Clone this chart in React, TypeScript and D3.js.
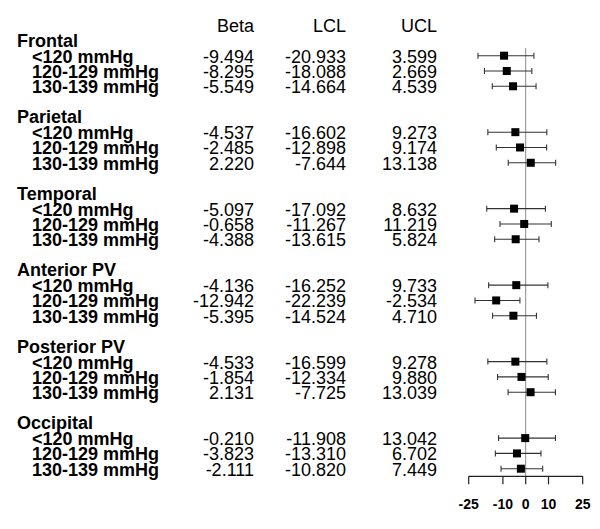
import React from "react";
import * as d3 from "d3";

const groups = ["Frontal", "Parietal", "Temporal", "Anterior PV", "Posterior PV", "Occipital"];
const levels = ["<120 mmHg", "120-129 mmHg", "130-139 mmHg"];
const beta = [
  [-9.494, -8.295, -5.549],
  [-4.537, -2.485, 2.22],
  [-5.097, -0.658, -4.388],
  [-4.136, -12.942, -5.395],
  [-4.533, -1.854, 2.131],
  [-0.21, -3.823, -2.111],
];
const lcl = [
  [-20.933, -18.088, -14.664],
  [-16.602, -12.898, -7.644],
  [-17.092, -11.267, -13.615],
  [-16.252, -22.239, -14.524],
  [-16.599, -12.334, -7.725],
  [-11.908, -13.31, -10.82],
];
const ucl = [
  [3.599, 2.669, 4.539],
  [9.273, 9.174, 13.138],
  [8.632, 11.219, 5.824],
  [9.733, -2.534, 4.71],
  [9.278, 9.88, 13.039],
  [13.042, 6.702, 7.449],
];
const columns = ["Beta", "LCL", "UCL"];
const xTicks = [-25, -10, 0, 10, 25];

const W = 600;
const H = 529;
const FONT = "'Liberation Sans', Arial, Helvetica, sans-serif";

export default function App() {
  const x = d3.scaleLinear().domain([-25, 25]).range([468.7, 582.7]);
  const y = d3.scaleLinear().domain([-1, 28]).range([25.1, 468.7]);
  const colX = [254, 346, 437];
  const axisY = 476.3;
  const fmt = (v: number) => d3.format(".3f")(v).replace("\u2212", "-");
  const fmtTick = (v: number) => String(v);
  const rowsOf = (g: number) => levels.map((_, i) => 5 * g + 1 + i);

  return (
    <svg width={W} height={H} style={{ position: "absolute", left: 0, top: 0, background: "#fff" }} fontFamily={FONT}>
      <rect x={0} y={0} width={W} height={H} fill="#fff" />
      {columns.map((c, i) => (
        <text key={c} x={colX[i]} y={y(-1) + 6.5} fontSize={18} textAnchor="end" fill="#000">
          {c}
        </text>
      ))}
      {groups.map((g, gi) => (
        <g key={g}>
          <text x={17} y={y(5 * gi) + 6.5} fontSize={18} fontWeight="bold" fill="#000">
            {g}
          </text>
          {rowsOf(gi).map((r, li) => (
            <g key={r}>
              <text x={32} y={y(r) + 7} fontSize={18} fontWeight="bold" fill="#000">
                {levels[li]}
              </text>
              {[beta, lcl, ucl].map((arr, ci) => (
                <text key={ci} x={colX[ci]} y={y(r) + 7} fontSize={18} textAnchor="end" fill="#000">
                  {fmt(arr[gi][li])}
                </text>
              ))}
            </g>
          ))}
        </g>
      ))}
      <line x1={x(0)} x2={x(0)} y1={y(0.5)} y2={axisY} stroke="#8c8c8c" strokeWidth={1} />
      {groups.map((g, gi) =>
        rowsOf(gi).map((r, li) => {
          const cy = y(r);
          return (
            <g key={g + r} stroke="#333" strokeWidth={1.1}>
              <line x1={x(lcl[gi][li])} x2={x(ucl[gi][li])} y1={cy} y2={cy} />
              <line x1={x(lcl[gi][li])} x2={x(lcl[gi][li])} y1={cy - 3} y2={cy + 3} />
              <line x1={x(ucl[gi][li])} x2={x(ucl[gi][li])} y1={cy - 3} y2={cy + 3} />
              <rect x={x(beta[gi][li]) - 4} y={cy - 4} width={8} height={8} fill="#000" stroke="none" />
            </g>
          );
        })
      )}
      <g>
        <line x1={x(-25)} x2={x(25)} y1={axisY} y2={axisY} stroke="#222" strokeWidth={1.2} />
        {xTicks.map((t) => (
          <g key={t}>
            <line x1={x(t)} x2={x(t)} y1={axisY} y2={axisY + 8} stroke="#222" strokeWidth={1.2} />
            <text x={x(t)} y={508.5} fontSize={14} fontWeight="bold" textAnchor="middle" fill="#000">
              {fmtTick(t)}
            </text>
          </g>
        ))}
      </g>
    </svg>
  );
}
